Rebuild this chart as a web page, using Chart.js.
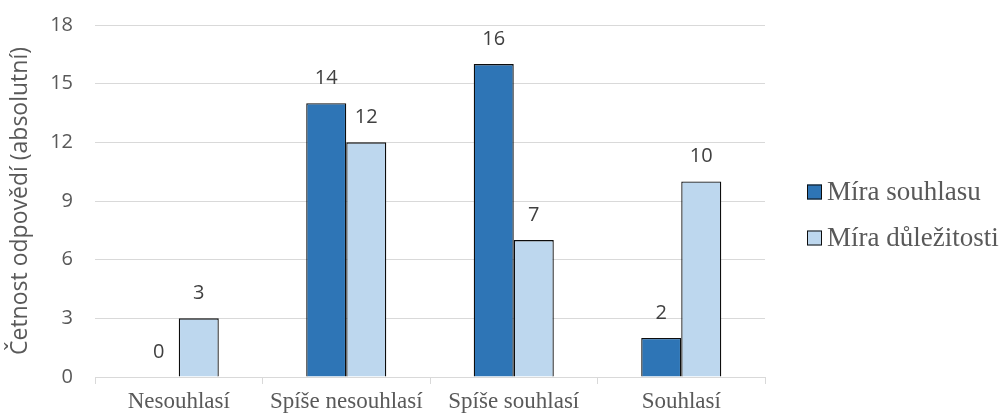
<!DOCTYPE html>
<html lang="cs">
<head>
<meta charset="utf-8">
<script src="https://cdn.jsdelivr.net/npm/chart.js@4/dist/chart.umd.min.js"></script>
<style>
  html, body { margin: 0; padding: 0; background: #ffffff; }
  #wrap { width: 1006px; height: 415px; }
</style>
</head>
<body>
<div id="wrap"><canvas id="graf" width="1006" height="415"></canvas></div>
<script>
// Kategorie odpovědí a četnosti pro obě série
const categories = ['Nesouhlasí', 'Spíše nesouhlasí', 'Spíše souhlasí', 'Souhlasí'];
const miraSouhlasu = [0, 14, 16, 2];
const miraDulezitosti = [3, 12, 7, 10];
const seriesNames = ['Míra souhlasu', 'Míra důležitosti'];
const yTickMin = 0, yTickMax = 18, yTickStep = 3;

const SANS = '"Open Sans", "Noto Sans", sans-serif';
const SERIF = '"Liberation Serif", "DejaVu Serif", serif';
const GRID = '#d9d9d9';
const TEXT = '#595959';
const OUTLINE = '#0d0d0d';

// Popisky hodnot nad sloupci
const valueLabels = {
  id: 'valueLabels',
  afterDatasetsDraw(chart) {
    const ctx = chart.ctx;
    ctx.save();
    ctx.font = '20px ' + SANS;
    ctx.fillStyle = '#404040';
    ctx.textAlign = 'center';
    ctx.textBaseline = 'middle';
    chart.data.datasets.forEach((ds, di) => {
      const meta = chart.getDatasetMeta(di);
      meta.data.forEach((bar, i) => {
        ctx.fillText(String(ds.data[i]), bar.x, bar.y - 25);
      });
    });
    ctx.restore();
  }
};

// Legenda vpravo od grafu
const sideLegend = {
  id: 'sideLegend',
  afterDraw(chart) {
    const ctx = chart.ctx;
    const x0 = chart.chartArea.right + 42;
    const yStart = 192, rowGap = 46, box = 15;
    ctx.save();
    ctx.font = '27px ' + SERIF;
    ctx.textBaseline = 'middle';
    ctx.textAlign = 'left';
    chart.data.datasets.forEach((ds, i) => {
      const y = yStart + i * rowGap;
      ctx.fillStyle = ds.backgroundColor;
      ctx.fillRect(x0, y - box / 2, box, box);
      ctx.strokeStyle = OUTLINE;
      ctx.lineWidth = 1;
      ctx.strokeRect(x0 + 0.5, y - box / 2 + 0.5, box - 1, box - 1);
      ctx.fillStyle = TEXT;
      ctx.fillText(ds.label, x0 + box + 5, y + 1);
    });
    ctx.restore();
  }
};

new Chart(document.getElementById('graf'), {
  type: 'bar',
  data: {
    labels: categories,
    datasets: [
      {
        label: seriesNames[0],
        data: miraSouhlasu,
        backgroundColor: '#2e75b6',
        borderColor: OUTLINE,
        borderWidth: 1.3,
        borderSkipped: 'bottom'
      },
      {
        label: seriesNames[1],
        data: miraDulezitosti,
        backgroundColor: '#bdd7ee',
        borderColor: OUTLINE,
        borderWidth: 1.3,
        borderSkipped: 'bottom'
      }
    ]
  },
  options: {
    responsive: false,
    animation: false,
    devicePixelRatio: 1,
    categoryPercentage: 0.478,
    barPercentage: 1.0,
    layout: { padding: { left: 0, right: 241, top: 25, bottom: 0 } },
    plugins: {
      legend: { display: false },
      tooltip: { enabled: false }
    },
    scales: {
      x: {
        offset: true,
        grid: {
          offset: true,
          drawOnChartArea: false,
          drawTicks: true,
          tickLength: 7,
          color: GRID,
          lineWidth: 1
        },
        border: { display: true, color: GRID, width: 1 },
        ticks: {
          color: TEXT,
          font: { family: SERIF, size: 23 },
          padding: 4,
          maxRotation: 0,
          autoSkip: false
        },
        afterFit(scale) { scale.height = 38; }
      },
      y: {
        min: yTickMin,
        max: yTickMax,
        grid: { color: GRID, lineWidth: 1, drawTicks: false },
        border: { display: false },
        ticks: {
          stepSize: yTickStep,
          color: TEXT,
          font: { family: SANS, size: 20 },
          padding: 22
        },
        title: {
          display: true,
          text: 'Četnost odpovědí (absolutní)',
          color: TEXT,
          font: { family: SANS, size: 23 },
          padding: { top: 7, bottom: 0 }
        },
        afterFit(scale) {
          scale.width = 95;
          scale.paddingTop = 0;
          scale.paddingBottom = 0;
        }
      }
    }
  },
  plugins: [valueLabels, sideLegend]
});
</script>
</body>
</html>
